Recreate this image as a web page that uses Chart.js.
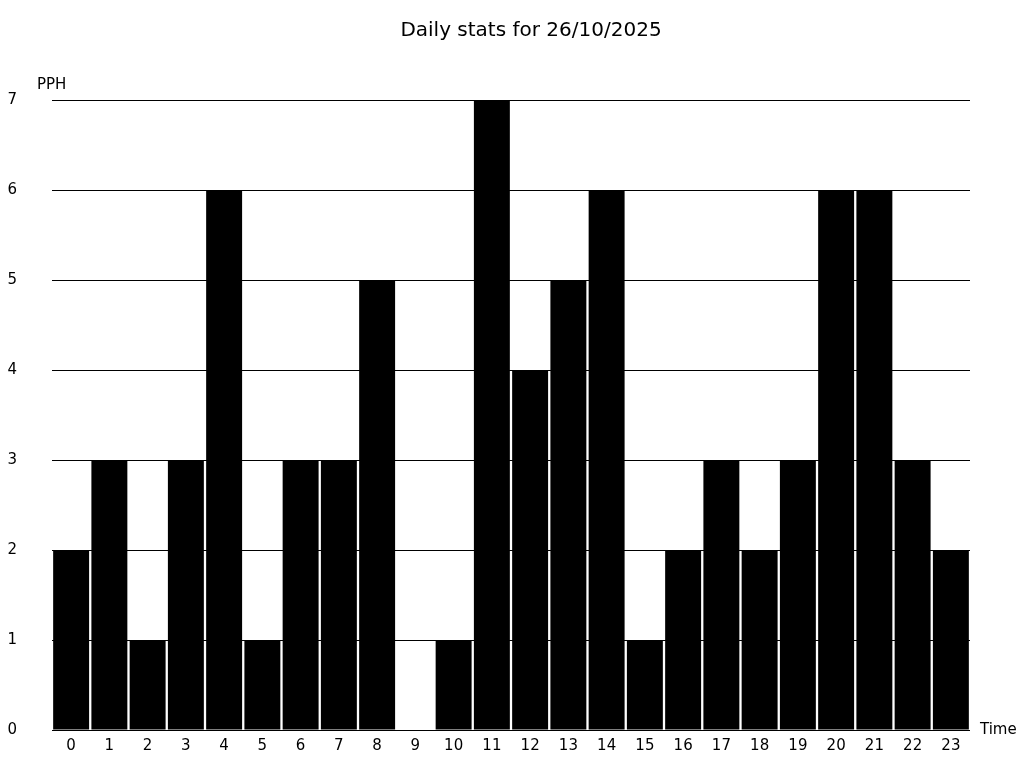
<!DOCTYPE html>
<html>
<head>
<meta charset="utf-8">
<script src="https://cdn.jsdelivr.net/npm/chart.js@4"></script>
<style>
  html, body { margin: 0; padding: 0; background: #fff; }
</style>
</head>
<body>
<canvas id="statsChart" width="1024" height="768"></canvas>
<script>
const hours = ['0', '1', '2', '3', '4', '5', '6', '7', '8', '9', '10', '11',
               '12', '13', '14', '15', '16', '17', '18', '19', '20', '21', '22', '23'];
const pph = [2, 3, 1, 3, 6, 1, 3, 3, 5, 0, 1, 7, 4, 5, 6, 1, 2, 3, 2, 3, 6, 6, 3, 2];
const yTicks = [0, 1, 2, 3, 4, 5, 6, 7];

const titleText = 'Daily stats for 26/10/2025';
const yLabel = 'PPH';
const xLabel = 'Time';

const FONT = '"DejaVu Sans", sans-serif';

// title + axis names drawn at fixed spots around the plot
const labelsPlugin = {
    id: 'labels',
    afterDraw(chart) {
        const c = chart.ctx;
        const area = chart.chartArea;
        c.save();
        c.fillStyle = '#000';
        c.textBaseline = 'middle';
        c.font = '20px ' + FONT;
        c.textAlign = 'center';
        c.fillText(titleText, 531, 31);
        c.font = '15px ' + FONT;
        c.textAlign = 'left';
        c.fillText(yLabel, area.left - 15, area.top - 15);
        c.fillText(xLabel, area.right + 10, area.bottom);
        c.restore();
    }
};

const ctx = document.getElementById('statsChart').getContext('2d');
const statsChart = new Chart(ctx, {
    type: 'bar',
    data: {
        labels: hours,
        datasets: [{
            label: 'PPH',
            data: pph,
            backgroundColor: '#000',
            borderWidth: 0,
            categoryPercentage: 1,
            barPercentage: 0.94
        }]
    },
    options: {
        responsive: false,
        animation: false,
        layout: {
            padding: { top: 100, right: 54, bottom: 0, left: 0 }
        },
        plugins: {
            legend: { display: false },
            title: { display: false },
            tooltip: { enabled: false }
        },
        scales: {
            x: {
                grid: { display: false, drawTicks: false },
                border: { display: false },
                ticks: {
                    color: '#000',
                    font: { family: FONT, size: 15 },
                    padding: 7,
                    maxRotation: 0
                },
                afterFit(scale) { scale.height = 38; }
            },
            y: {
                min: 0,
                max: 7,
                afterBuildTicks(scale) {
                    scale.ticks = yTicks.map(v => ({ value: v }));
                },
                grid: { color: '#000', lineWidth: 1, drawTicks: false },
                border: { display: false },
                ticks: {
                    color: '#000',
                    font: { family: FONT, size: 15 },
                    padding: 35
                },
                afterFit(scale) {
                    // fixed axis width; drop the label half-height padding
                    scale.width = 52;
                    scale.paddingTop = 0;
                    scale.paddingBottom = 0;
                }
            }
        }
    },
    plugins: [labelsPlugin]
});
</script>
</body>
</html>
